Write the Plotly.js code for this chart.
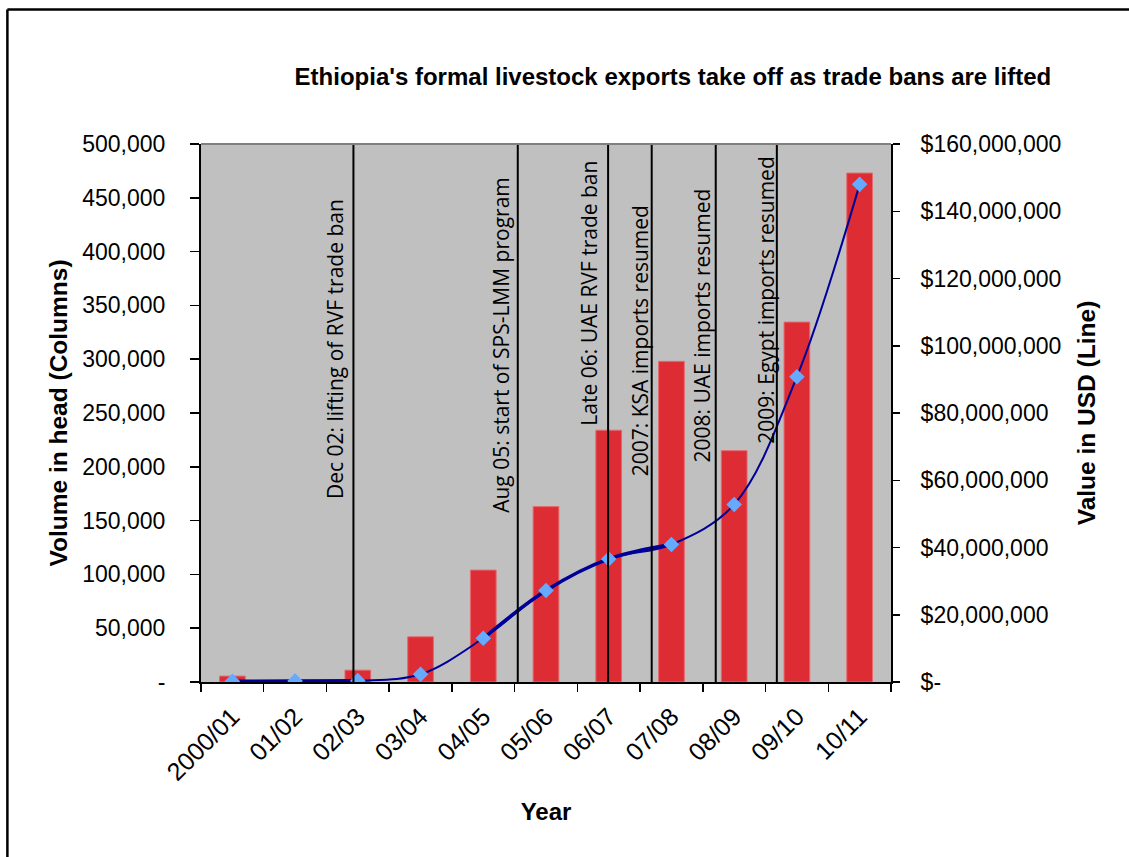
<!DOCTYPE html>
<html><head><meta charset="utf-8">
<script src="https://cdn.plot.ly/plotly-3.0.1.min.js"></script>
<style>html,body{margin:0;padding:0;background:#fff}#chart{width:1129px;height:857px}</style>
</head><body><div id="chart"></div>
<script>
// ---- data ----
var categories = ['2000/01','01/02','02/03','03/04','04/05','05/06','06/07','07/08','08/09','09/10','10/11'];
var volumeHead = [5500, 1000, 11000, 42000, 104000, 163000, 234000, 298000, 215000, 334500, 473000];
var valueUSD = [200000, 300000, 400000, 2300000, 13000000, 27200000, 36600000, 40900000, 52800000, 90800000, 148000000];

var leftTickVals = [0, 50000, 100000, 150000, 200000, 250000, 300000, 350000, 400000, 450000, 500000];
var leftTickText = ['-', '50,000', '100,000', '150,000', '200,000', '250,000', '300,000', '350,000', '400,000', '450,000', '500,000'];
var rightTickVals = [0, 20000000, 40000000, 60000000, 80000000, 100000000, 120000000, 140000000, 160000000];
var rightTickText = ['$-', '$20,000,000', '$40,000,000', '$60,000,000', '$80,000,000', '$100,000,000', '$120,000,000', '$140,000,000', '$160,000,000'];

// events: position on the category scale (fraction between categories), label
var eventPos = [1.93, 4.55, 5.99, 6.685, 7.706, 8.68];
var eventText = ['Dec 02: lifting of RVF trade ban', 'Aug 05: start of SPS-LMM program', 'Late 06: UAE RVF trade ban',
                 '2007: KSA imports resumed', '2008: UAE imports resumed', '2009: Egypt imports resumed'];
var eventLabelX = [1.629, 4.293, 5.68, 6.494, 7.49, 8.503];
var eventLabelY = [0.618, 0.626, 0.723, 0.6346, 0.663, 0.71];

// segments of the value line that are drawn heavier in the original
var heavySegment = [true, true, true, false, true, true, true, true, false, false, false];

var AR = 'Arial, "Liberation Sans", sans-serif';

var heavyY = valueUSD.map(function(v, i){ return heavySegment[i] ? v : null; });

var traces = [
  {type:'bar', x:categories, y:volumeHead, yaxis:'y', width:0.41,
   marker:{color:'#DD2C33', line:{color:'#E46A6E', width:1}}, hoverinfo:'x+y'},
  {type:'scatter', mode:'lines', x:categories, y:heavyY, yaxis:'y2', connectgaps:false,
   line:{color:'#000099', width:3.5, shape:'spline', smoothing:1}, hoverinfo:'skip'},
  {type:'scatter', mode:'lines+markers', x:categories, y:valueUSD, yaxis:'y2',
   line:{color:'#000099', width:2, shape:'spline', smoothing:1},
   marker:{symbol:'diamond', size:12, color:'#66AAFF'}}
];

var shapes = [];
eventPos.forEach(function(p){
  shapes.push({type:'line', xref:'x', yref:'paper', x0:p, x1:p, y0:0, y1:1, layer:'above',
               line:{color:'#000', width:2}});
});
shapes.push({type:'line', xref:'paper', yref:'paper', x0:0, x1:1, y0:1, y1:1, line:{color:'#808080', width:2}});
// outer frame
shapes.push({type:'line', xref:'paper', yref:'paper', x0:-0.2806, x1:-0.2806, y0:-0.5, y1:1.2501, line:{color:'#000', width:2.5}});
shapes.push({type:'line', xref:'paper', yref:'paper', x0:-0.2806, x1:1.5, y0:1.2501, y1:1.2501, line:{color:'#000', width:2.5}});

var annotations = eventText.map(function(t, i){
  return {text:t, x:eventLabelX[i], y:eventLabelY[i], xref:'x', yref:'paper', showarrow:false,
          textangle:-90, xanchor:'center', yanchor:'middle',
          font:{family:'"Open Sans", "Noto Sans", sans-serif', size:21, color:'#000'}};
});

var layout = {
  width:1129, height:857,
  margin:{l:201, r:238, t:144, b:175, pad:0},
  paper_bgcolor:'#fff', plot_bgcolor:'#C0C0C0',
  showlegend:false,
  title:{text:"<b>Ethiopia's formal livestock exports take off as trade bans are lifted</b>",
         font:{family:AR, size:24, color:'#000'}, xref:'container', yref:'container',
         x:0.596, xanchor:'center', y:1-77/857, yanchor:'middle'},
  xaxis:{type:'category', range:[-0.5, 10.5], tickson:'boundaries', ticks:'outside', ticklen:8, tickwidth:1.5, tickcolor:'#000',
         showline:true, linecolor:'#000', linewidth:2, showgrid:false, zeroline:false,
         tickangle:-45, tickfont:{family:AR, size:25, color:'#000'}, ticklabelstandoff:8, automargin:false,
         title:{text:'<b>Year</b>', font:{family:AR, size:24, color:'#000'}, standoff:18}},
  yaxis:{range:[0,500000], tickvals:leftTickVals, ticktext:leftTickText, ticks:'outside', ticklen:9, tickwidth:1.5,
         tickcolor:'#000', showline:true, linecolor:'#000', linewidth:2, showgrid:false, zeroline:false,
         tickfont:{family:AR, size:23, color:'#000'}, ticklabelstandoff:20, automargin:false,
         title:{text:'<b>Volume in head (Columns)</b>', font:{family:AR, size:24.5, color:'#000'}, standoff:8}},
  yaxis2:{overlaying:'y', side:'right', range:[0,160000000], tickvals:rightTickVals, ticktext:rightTickText,
          ticks:'outside', ticklen:7, tickwidth:1.5, tickcolor:'#000', showline:true, linecolor:'#000', linewidth:2,
          showgrid:false, zeroline:false, tickfont:{family:AR, size:23, color:'#000'}, ticklabelstandoff:16, automargin:false,
          title:{text:'<b>Value in USD (Line)</b>', font:{family:AR, size:24.5, color:'#000'}, standoff:18}},
  yaxis3:{overlaying:'y', side:'right', range:[0,160000000], tickvals:rightTickVals, ticks:'inside', ticklen:11,
          tickwidth:1.5, tickcolor:'#000', showticklabels:false, showline:false, showgrid:false, zeroline:false},
  shapes:shapes,
  annotations:annotations
};

Plotly.newPlot('chart', traces, layout, {displayModeBar:false, staticPlot:true});
</script></body></html>
